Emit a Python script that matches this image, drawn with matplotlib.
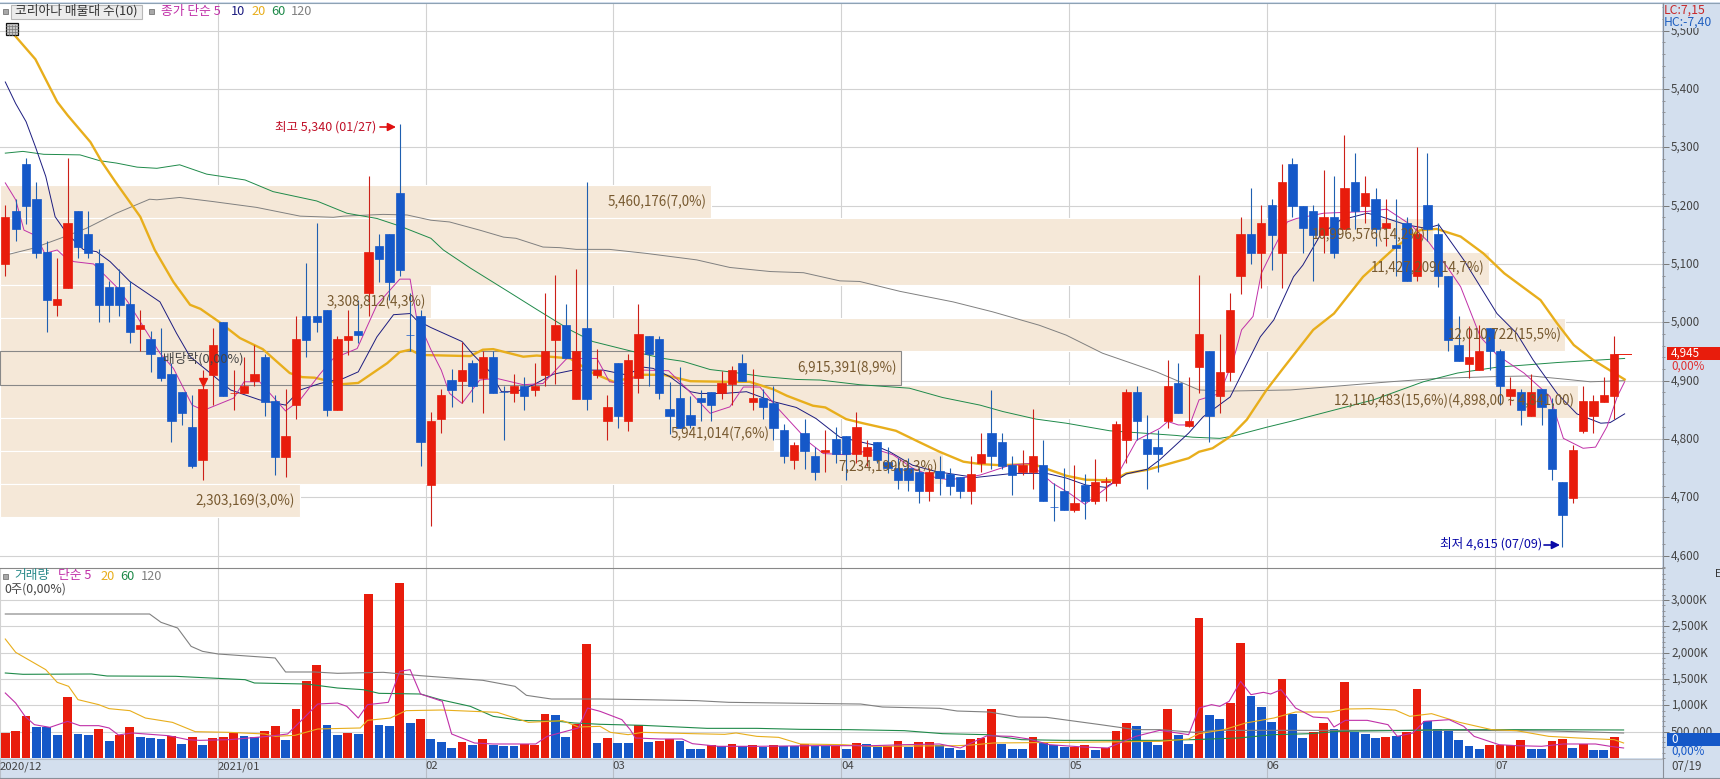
import matplotlib
matplotlib.use("Agg")
import matplotlib.pyplot as plt
from matplotlib.patches import Rectangle
from matplotlib.ticker import FixedLocator, MultipleLocator, FuncFormatter
from matplotlib.transforms import ScaledTranslation

plt.rcParams['font.family'] = ['Noto Sans CJK KR', 'DejaVu Sans']

# ---------- data ----------
candle_colors = ("rbbbbrrbbb" "bbbrbbbbbr" "rbrrrbbrrb" "bbrrbrbbbb" "brrbrbrbbr"
                 "brrrbrbrrb" "rrbbbbbbbr" "rbrbbbrbbr" "bbrrbbbbbr" "bbbrrbbbrr"
                 "bbbrbrrrrb" "bbrbrrbrrr" "brbrbbbrbr" "brbrbbrbbb" "brrbbrbrbb" "brrrrr")
body_top = [5180,5191,5272,5211,5120,5040,5170,5191,5151,5101,
            5060,5060,5031,4995,4971,4941,4911,4880,4821,4886,
            4961,5001,4879,4891,4911,4941,4865,4805,4971,5011,
            5011,5021,4971,4977,4985,5121,5131,5151,5222,4979,
            5011,4830,4875,4901,4919,4930,4940,4940,4880,4891,
            4891,4891,4950,4995,4995,4950,4990,4919,4855,4930,
            4935,4980,4976,4971,4851,4870,4841,4870,4880,4896,
            4919,4930,4870,4870,4861,4815,4790,4811,4771,4781,
            4800,4805,4820,4787,4794,4761,4750,4750,4744,4744,
            4745,4740,4734,4740,4775,4810,4794,4755,4755,4771,
            4755,4684,4710,4690,4721,4726,4728,4826,4881,4881,
            4800,4787,4891,4896,4831,4980,4950,4914,5021,5151,
            5151,5170,5201,5240,5271,5200,5191,5180,5180,5230,
            5240,5221,5211,5170,5132,5170,5151,5201,5151,5080,
            4961,4940,4950,4990,4950,4885,4880,4880,4885,4851,
            4726,4781,4865,4865,4875,4945]
body_bot = [5100,5160,5200,5119,5038,5030,5059,5129,5119,5030,
            5030,5030,4983,4989,4945,4905,4830,4845,4754,4764,
            4910,4874,4879,4878,4899,4863,4769,4769,4858,4970,
            5000,4850,4850,4970,4978,5050,5109,5069,5090,4979,
            4794,4721,4835,4884,4900,4890,4905,4879,4880,4879,
            4874,4884,4910,4970,4939,4869,4869,4910,4830,4840,
            4830,4905,4945,4879,4840,4819,4824,4864,4858,4879,
            4894,4900,4864,4854,4819,4770,4764,4780,4744,4778,
            4774,4774,4774,4770,4764,4751,4729,4729,4710,4710,
            4733,4720,4710,4710,4759,4770,4754,4738,4744,4744,
            4694,4684,4678,4678,4694,4694,4726,4725,4798,4830,
            4774,4774,4830,4845,4823,4924,4840,4874,4914,5079,
            5119,5119,5150,5119,5200,5161,5150,5150,5119,5160,
            5190,5200,5160,5161,5128,5070,5080,5160,5080,4970,
            4934,4929,4918,4950,4890,4874,4850,4840,4854,4749,
            4669,4699,4814,4840,4864,4874]
wick_high = [5201,5211,5282,5240,5140,5111,5282,5191,5191,5125,
             5071,5091,5070,5021,4985,4990,4930,4880,4875,4919,
             4990,5001,4919,4940,4961,4946,4875,4886,5011,5101,
             5170,5021,4977,5021,5038,5251,5151,5151,5340,5050,
             5021,4847,4885,4920,4967,4935,4950,4950,4890,4911,
             4906,4930,5050,5081,5031,5091,5240,4955,4875,4930,
             4946,5031,4976,4976,4897,4924,4874,4884,4880,4916,
             4925,4946,4920,4885,4891,4825,4794,4835,4786,4815,
             4820,4805,4846,4799,4794,4786,4767,4767,4750,4750,
             4770,4750,4734,4771,4811,4884,4810,4771,4781,4851,
             4799,4725,4750,4755,4740,4765,4734,4831,4885,4891,
             4841,4815,4935,4930,4906,5081,4950,4980,5050,5180,
             5230,5201,5211,5271,5281,5200,5201,5261,5251,5321,
             5291,5251,5230,5211,5211,5180,5300,5291,5170,5080,
             5010,4994,4995,4990,4955,4906,4885,4911,4885,4870,
             4726,4790,4890,4875,4906,4977]
wick_low = [5079,5140,5168,5110,4983,5010,5059,5110,5110,5000,
            5000,5010,4965,4950,4914,4900,4794,4824,4750,4729,
            4858,4874,4850,4878,4890,4839,4738,4734,4834,4940,
            4983,4840,4850,4944,4964,5010,5069,5038,5079,4950,
            4754,4650,4810,4854,4861,4864,4845,4879,4799,4864,
            4850,4874,4890,4895,4939,4869,4850,4905,4799,4819,
            4814,4879,4890,4869,4808,4819,4818,4830,4830,4869,
            4858,4900,4850,4835,4799,4759,4749,4749,4729,4744,
            4759,4729,4759,4753,4759,4741,4714,4710,4690,4694,
            4704,4704,4699,4689,4744,4749,4749,4704,4738,4714,
            4694,4660,4678,4674,4663,4689,4694,4719,4759,4798,
            4715,4744,4819,4845,4820,4879,4794,4845,4900,5049,
            5100,5059,5090,5059,5181,5119,5070,5119,5110,5160,
            5160,5170,5130,5130,5080,5070,5070,5140,5060,4950,
            4934,4905,4918,4919,4858,4858,4824,4840,4824,4729,
            4615,4690,4810,4810,4864,4835]

volume_colors = ("rrrbbbrbbr" "brrbbbrbrb" "rrrbbrrbrr" "rbbrbrbbrb" "rbbbrbrbbb"
                 "rrrbbrrbrb" "brbrrbbbrb" "rbrbrbbrbb" "rbrbbrrbrr" "bbbrrrbbbr"
                 "bbbrrbrrrb" "bbrbbrbbrr" "bbbrbbrrbr" "bbbrbrrbbb" "bbbrrrrbbr" "rbrbbr")
volume_k = [481,519,804,595,582,443,1165,462,443,557,
            329,443,595,405,386,367,418,272,405,253,
            386,405,481,424,405,519,614,348,937,1468,
            1772,633,443,481,462,3120,633,614,3329,671,
            747,367,310,196,310,253,367,253,234,234,
            266,253,842,823,405,652,2171,291,386,291,
            291,633,310,329,361,329,177,177,247,228,
            272,228,253,203,253,228,228,266,228,228,
            234,177,291,266,215,228,329,215,310,310,
            247,196,158,367,386,937,272,177,177,405,
            291,247,215,215,253,158,190,519,671,614,
            310,253,937,443,272,2665,823,747,1051,2190,
            1184,975,690,1506,842,386,500,671,557,1449,
            500,462,386,405,411,500,1316,709,550,519,
            348,234,177,253,253,247,348,177,177,329,
            367,196,266,158,158,405]

ma5_x = [0,1,1.8,3,3.8,5,5.6,6.6,8.5,10.7,11.8,14.9,16.2,18,19.1,22,23,24.5,27,28.4,30.3,31.6,33.9,35.8,38,39,39.6,41,
         42,42.8,44,45.7,47.3,49.9,51.8,54.1,55,57,58.2,59.8,61.5,63.9,65.6,67.9,69.8,71.1,72.7,74.3,75.9,77.5,78.8,81,
         83.9,85.5,87.4,89.7,91,93.9,96.8,98.7,100.9,102.5,104,106,106.7,109,111.2,112,113,114.1,115,117,118.3,119.1,120.2,121,122.2,123.5,124.4,
         127,131.2,133.1,135.4,137.1,138.9,140.2,142.1,143.7,146.3,148.8,150.1,152,153.2,154.3,155.3,156]
ma5_y = [5239,5210,5158,5148,5118,5124,5114,5104,5100,5061,5035,4947,4921,4858,4849,4870,4898,4898,4848,4867,4911,4938,4955,5030,5074,5074,5010,4953,
         4918,4878,4861,4901,4904,4893,4895,4938,4938,4938,4898,4895,4918,4917,4887,4844,4855,4889,4889,4855,4824,4793,4775,4773,
         4782,4773,4750,4733,4730,4738,4755,4758,4724,4707,4688,4715,4724,4798,4818,4830,4824,4824,4867,4878,4935,4987,5010,5084,5127,5172,5178,
         5187,5190,5194,5167,5138,5095,5061,4975,4944,4913,4873,4801,4784,4786,4821,4873,4898]

ma10_x = [0,1,2,2.9,3.9,4.8,5.9,7.5,8.8,10.1,12,14.9,16.5,17.8,19.4,21.7,24.5,27,28.4,30.3,32.6,34,35.8,37.4,39,39.6,41,
          44,45.1,46.7,47.8,49.2,50.9,52.8,54.7,57.6,59.8,61.5,62.4,64,66,66.9,69.2,71.4,74,76.2,78.1,80.4,83.6,85.2,87.4,89.7,92.3,93.5,97.1,100.3,102.2,104.1,106,108,110,111.2,
          114,115.4,118,120.9,122.2,124.1,125,126.7,128.6,131.2,132.4,135,136.9,138.1,140.5,143.7,145.6,147.2,149.5,151.4,153.7,154.6,156]
ma10_y = [5412,5375,5344,5301,5250,5181,5153,5125,5121,5104,5070,5035,4981,4941,4918,4884,4867,4858,4884,4895,4904,4915,4975,5013,5015,5004,4991,
          4967,4944,4915,4881,4881,4893,4911,4918,4918,4910,4923,4921,4907,4881,4878,4878,4881,4864,4854,4835,4803,4790,4778,4755,4744,4737,4734,4741,4741,4733,4721,4717,4740,4748,4764,
          4810,4838,4872,4975,5004,5078,5098,5150,5175,5187,5182,5167,5161,5167,5107,5015,4981,4935,4878,4843,4827,4828,4843]

ma20_x = [0.9,2.9,5,6,8.2,9.3,10.6,12,13,14.4,16.2,17.8,18.8,20.5,22.6,24.8,27.4,28.6,29.8,32.5,34,36.8,38,39,40,
          44.8,46,47,49.9,51.2,54.4,56.6,58.6,61.5,63.4,66,69.5,71.7,74,75.3,77.8,79,81,82.6,84.6,85.8,88,90,92.3,93.9,95.8,99,100.6,102.2,104.1,106.7,108,110,
          112.2,114,115,116.3,118,119.6,121.5,123.1,126,128,130.8,134,136.3,137.9,140.2,142.4,144.4,147.9,149.5,151.1,153,156]
ma20_y = [5492,5451,5378,5355,5309,5275,5241,5206,5181,5124,5069,5030,5023,5002,4973,4954,4913,4906,4905,4894,4896,4930,4949,4953,4944,
          4942,4953,4954,4941,4943,4938,4913,4898,4910,4910,4899,4898,4898,4885,4874,4857,4854,4834,4827,4819,4814,4795,4778,4761,4757,4755,4757,4747,4737,4730,4729,4741,4747,
          4758,4767,4778,4784,4804,4833,4884,4921,4987,5015,5078,5130,5158,5160,5147,5118,5084,5038,4998,4961,4935,4902]

ma60_x = [0,1.7,3.7,7.2,9.1,10.7,12.7,14.6,16.8,19.4,23.1,25.8,30,32.9,35.8,38,41,42.2,44.8,48.6,51.2,54.4,56.6,60.2,63.4,65.3,67.9,69.8,73,76.2,78.5,82.3,
          87.1,90.3,93.9,96.1,99.3,102.2,106.4,109.6,112.8,114.4,117,118.3,121.5,123.8,131.8,136.6,139.9,143.7,149.5,156]
ma60_y = [5290,5293,5288,5287,5277,5273,5266,5264,5270,5254,5244,5224,5208,5187,5178,5165,5144,5124,5093,5051,5022,4987,4967,4951,4938,4933,4919,4915,4907,4902,4901,4893,
          4887,4871,4858,4847,4834,4827,4814,4810,4806,4803,4801,4805,4820,4830,4867,4898,4913,4923,4931,4938]

ma120_x = [0,2.7,5.3,7.8,10.7,13.9,14.6,16.8,20,24.2,28.4,31.6,32.6,36.4,38.7,41,42.8,45.7,48,49.2,51.8,53.4,55,58.2,61.8,66.6,69.8,73.7,76.9,80.4,82.3,
           86.2,91.3,95.1,99.6,102.2,105.7,110.9,115,117.6,123.8,133.4,138.2,143.7,147,150.5,152.7,156]
ma120_y = [5115,5127,5144,5161,5187,5211,5210,5214,5207,5197,5182,5180,5182,5185,5184,5175,5172,5158,5146,5144,5129,5128,5125,5125,5118,5107,5094,5087,5085,5071,5070,
           5053,5035,5018,4995,4978,4947,4915,4884,4882,4884,4898,4904,4907,4908,4902,4898,4900]

vma5_x = [0,1,1.9,2.8,4.3,6,7.2,9,10,10.9,12.2,15.7,17.6,18.7,21.6,25.3,27.2,28.6,30.1,32,32.9,34,34.9,36.9,38,39,40,42.1,43,45.2,47,51.1,52.2,55.2,56.1,57.3,
          59.4,60.2,60.7,63.1,65.2,66.2,68.7,72.4,78,83.5,86.6,90,92,94.6,96.9,98.6,100.6,103.8,106.2,108.9,111.2,114,115,116.2,117,117.9,119,120,121.2,121.9,122.9,124.3,126,127.4,128,129.1,131.2,133.2,134.1,135.6,136.7,139.1,140.5,141.5,143.9,145.6,148,150.1,153.2,154.6,155.9]
vma5_y = [1234,1044,791,633,582,696,614,614,570,437,475,424,348,335,348,411,456,728,1025,1044,981,759,1013,1057,1646,1677,1215,1076,456,285,266,266,411,570,949,886,
          728,538,380,361,361,272,222,222,234,234,253,266,190,424,411,361,253,209,190,411,525,443,949,1013,981,1076,1456,1203,1247,1215,1297,949,778,759,589,715,715,633,411,475,696,728,601,411,253,234,222,266,266,222,190]

vma20_x = [0,1,3.9,5,6.1,7,9,10,12,13.5,16.1,18.3,21.6,25,26,27.9,30.1,34.2,34.9,37.1,38.6,42,47.4,50.4,53.7,55.2,57.3,
           58.3,60,61.4,66.2,69.3,70.4,72.4,74.5,76.6,80.7,83.5,91.7,93.1,95.2,102,111.2,114,115,117.4,119.5,122.2,124.3,127.7,129.1,131.5,133.9,135.3,137.4,140.1,143.2,145.6,148.7,151.5,155,155.9]
vma20_y = [2259,2006,1677,1437,1361,1108,1013,937,899,759,677,500,487,456,411,430,551,570,715,759,899,911,867,677,709,589,601,
           487,443,487,462,449,475,411,392,266,253,222,234,247,285,297,316,361,462,538,665,759,873,873,930,937,911,791,842,677,538,519,411,380,348,285]

vma60_x = [0,1.7,8.3,9.8,16.4,23.1,24,29,32,34.5,36,40,41.9,44.8,47,49.6,53.3,54.8,57.3,61.4,67.6,72.4,76.6,81.4,86.6,90.3,94.5,97.9,102,111.2,114.3,118.8,122.2,125.7,128.4,135.3,138.7,145.6,155.9]
vma60_y = [1614,1589,1595,1557,1551,1487,1424,1405,1329,1297,1228,1215,1108,981,791,715,696,665,640,620,563,563,544,538,519,462,443,348,335,335,348,380,443,462,506,525,538,538,532]

vma120_x = [0,13.9,15,16.6,17.9,19,20.5,26,27,29.8,32,36.4,40,46,49.1,50.2,52.6,57.3,61.4,66.6,69.7,79.3,82.4,84.5,90,91.7,94.8,97.6,100.3,105.5,108.9,111.2,114.6,116.4,128.4,138.7,145.6,148.7,152.5,155.9]
vma120_y = [2734,2734,2576,2468,2120,2025,1975,1899,1633,1633,1608,1627,1563,1475,1361,1190,1120,1120,1108,1089,1057,1032,1025,968,943,892,873,778,772,633,538,538,487,525,525,525,519,513,494,475]

band_edges = [5235,5178,5121,5064,5007,4950,4893,4836,4780,4723,4666]
band_volumes = [5460176,10996576,11427209,3308812,12010722,6915391,12110483,5941014,7234199,2303169]
band_labels = ["5,460,176(7,0%)","10,996,576(14,2%)","11,427,209(14,7%)","3,308,812(4,3%)",
               "12,010,722(15,5%)","6,915,391(8,9%)","12,110,483(15,6%)(4,898,00 ~ 4,841,00)",
               "5,941,014(7,6%)","7,234,199(9,3%)","2,303,169(3,0%)"]
band_label_right = [707,1426,1485,426,1562,897,1574,770,938,295]

month_ticks = [-0.5,20.5,40.5,58.5,80.5,102.5,121.5,143.5]
month_labels = ["2020/12","2021/01","02","03","04","05","06","07"]
price_ticks = [4600,4700,4800,4900,5000,5100,5200,5300,5400,5500]
volume_ticks = [500,1000,1500,2000,2500,3000]

# ---------- style ----------
W, H = 1720, 779
RED, BLUE = '#e81c0c', '#1558c8'
RWICK, BWICK = '#cc2018', '#1f5fb0'
C5, C10, C20, C60, C120 = '#c030a8', '#1c1c80', '#e8ae1c', '#1f8a4a', '#808080'
GRID = '#d2d2d2'
BAND = '#f5e8d8'
STRIP = '#d3dfee'
XL = (-0.51, 159.6)

fig = plt.figure(figsize=(W/100, H/100), dpi=100, facecolor=STRIP)
ax = fig.add_axes([0, 1-567.5/H, 1662/W, (567.5-3)/H], facecolor='white')
vx = fig.add_axes([0, 1-758/H, 1662/W, (758-567.5)/H], facecolor='white')
ov = fig.add_axes([0, 0, 1, 1], facecolor='none', zorder=10)
ov.set_xlim(0, W); ov.set_ylim(H, 0); ov.axis('off')

for a in (ax, vx):
    a.set_xlim(*XL)
    for s in a.spines.values():
        s.set_visible(False)
    a.yaxis.tick_right()
    a.tick_params(axis='y', which='major', length=5, width=0.7, color='#777777',
                  labelsize=8.4, labelcolor='#444444', pad=1.5)
    a.tick_params(axis='y', which='minor', length=2.5, width=0.6, color='#888888')
    a.set_axisbelow(True)

# ---------- price panel ----------
ax.set_ylim(4579.6, 5547.4)
ax.yaxis.set_major_locator(FixedLocator(price_ticks))
ax.yaxis.set_minor_locator(MultipleLocator(20))
ax.yaxis.set_major_formatter(FuncFormatter(lambda v, p: f"{int(v):,}"))
ax.set_xticks([])
ax.grid(axis='y', color=GRID, lw=0.8, zorder=0.5)
for m in month_ticks[1:]:
    ax.axvline(m, color=GRID, lw=0.8, zorder=0.5)

px_per_volume = 1578 / 12110483 / 10.38
for k, bv in enumerate(band_volumes):
    top, bot = band_edges[k], band_edges[k+1]
    boxed = band_labels[k].startswith("6,915")
    ax.barh((top+bot)/2, bv*px_per_volume, height=top-bot, left=XL[0], color=BAND,
            edgecolor='#888888' if boxed else 'white', linewidth=0.8,
            zorder=2 if boxed else 1)

xs = list(range(len(body_top)))
ax.plot(ma120_x, ma120_y, color=C120, lw=0.7, zorder=3)
ax.plot(ma60_x, ma60_y, color=C60, lw=0.7, zorder=3)
ax.plot(ma20_x, ma20_y, color=C20, lw=1.7, zorder=3)
ax.plot(ma10_x, ma10_y, color=C10, lw=0.7, zorder=3)
ax.plot(ma5_x, ma5_y, color=C5, lw=0.7, zorder=3)
ax.plot([155, 156.6], [4945, 4945], color=RED, lw=0.7, zorder=3)

wick_cols = [RWICK if c == 'r' else BWICK for c in candle_colors]
body_cols = [RED if c == 'r' else BLUE for c in candle_colors]
ax.vlines(xs, wick_low, wick_high, colors=wick_cols, lw=0.8, zorder=4)
ax.bar(xs, [t-b for t, b in zip(body_top, body_bot)], bottom=body_bot, width=0.8,
       color=body_cols, edgecolor=body_cols, linewidth=0.5, zorder=5)
ax.plot([19], [4897], marker='v', color=RED, ms=6, zorder=6)

for k, lab in enumerate(band_labels):
    ymid = (band_edges[k]+band_edges[k+1])/2
    ax.text((band_label_right[k]-5.3)/10.38, ymid, lab, ha='right', va='center',
            fontsize=9.7, color='#77592f', zorder=8)

# ---------- volume panel ----------
vx.set_ylim(0, 3617)
vx.yaxis.set_major_locator(FixedLocator(volume_ticks))
vx.yaxis.set_minor_locator(MultipleLocator(100))
vx.yaxis.set_major_formatter(FuncFormatter(lambda v, p: "500,000" if v == 500 else f"{int(v):,}K"))
vx.grid(axis='y', color=GRID, lw=0.8, zorder=0.5)
vx.bar(xs, volume_k, width=0.85, color=[RED if c == 'r' else BLUE for c in volume_colors], zorder=2)
vx.plot(vma120_x, vma120_y, color=C120, lw=0.8, zorder=3)
vx.plot(vma60_x, vma60_y, color=C60, lw=0.8, zorder=3)
vx.plot(vma20_x, vma20_y, color=C20, lw=0.8, zorder=3)
vx.plot(vma5_x, vma5_y, color=C5, lw=0.8, zorder=3)
vx.set_xticks(month_ticks)
vx.set_xticklabels(month_labels, ha='left')
vx.tick_params(axis='x', length=14.4, width=0.8, color='#b8bec8', labelsize=8.2,
               labelcolor='#444444', pad=-12, direction='out')
vx.xaxis.grid(True, color=GRID, lw=0.8, zorder=0.5)

# tick labels sit slightly above their grid lines
lift = ScaledTranslation(0, 1.3/100, fig.dpi_scale_trans)
for a in (ax, vx):
    for lab in a.get_yticklabels():
        lab.set_transform(lab.get_transform() + lift)

# ---------- frame ----------
ov.add_patch(Rectangle((0, 0), W, 2, color='white', lw=0))
for yy, c in ((2.5, '#8ea2b4'), (567.5, '#888888'), (778, '#8a8f98')):
    ov.plot([0, W if yy != 567.5 else 1662], [yy, yy], color=c, lw=0.8)
ov.plot([0, 1662], [758.5, 758.5], color='#b8bec8', lw=0.8)
ov.plot([1662.5, 1662.5], [3, 778], color='#8a8f98', lw=0.8)

# ---------- legends and notes ----------
def t(x, y, s, color='#444444', size=8.4, ha='left', **kw):
    ov.text(x, y, s, color=color, fontsize=size, ha=ha, va='center', **kw)

def bullet(x, y):
    ov.add_patch(Rectangle((x-2.5, y-2.5), 5, 5, facecolor='#a8a8a8', edgecolor='#777777', lw=0.6))

bullet(5, 11)
ov.add_patch(Rectangle((10.5, 4.5), 131, 14, facecolor='#ececec', edgecolor='#b8b8b8', lw=0.8))
t(15, 11, "코리아나 매물대 수(10)", '#333333', 9.2)
bullet(151, 11)
t(161, 11, "종가 단순 5", C5, 9.2)
t(231, 11, "10", C10, 9.2)
t(251, 11, "20", C20, 9.2)
t(271, 11, "60", C60, 9.2)
t(291, 11, "120", C120, 9.2)
ov.add_patch(Rectangle((6, 23), 12, 12, facecolor='#c8c8c8', edgecolor='#111111', lw=0.9))
for d in (3, 6, 9):
    ov.plot([6+d, 6+d], [25, 35], color='#777777', lw=0.5)
    ov.plot([6, 18], [23+d, 23+d], color='#777777', lw=0.5)

t(275, 127, "최고 5,340 (01/27)", '#c01028', 9.0)
ov.annotate('', xy=(396, 127), xytext=(380, 127),
            arrowprops=dict(arrowstyle='-|>', color='#e01010', lw=1.2, mutation_scale=12, shrinkA=0, shrinkB=0))
t(1440, 544, "최저 4,615 (07/09)", '#0a0aa8', 9.1)
ov.annotate('', xy=(1560, 545), xytext=(1544, 545),
            arrowprops=dict(arrowstyle='-|>', color='#0a0aa8', lw=1.2, mutation_scale=12, shrinkA=0, shrinkB=0))
t(163, 359, "배당락(0,00%)", '#444444', 9.2)

bullet(5, 576)
t(14, 576, "거래량", '#2a8a8a', 9.2)
t(58, 576, "단순 5", C5, 9.2)
t(100, 576, "20", C20, 9.2)
t(120.5, 576, "60", C60, 9.2)
t(141, 576, "120", C120, 9.2)
t(4.5, 589, "0주(0,00%)", '#444444', 8.8)

ov.add_patch(Rectangle((1667, 347), 53, 12.5, color=RED, lw=0))
t(1671, 353, "4,945", 'white')
t(1671, 366, "0,00%", '#e03030')
ov.add_patch(Rectangle((1667, 733), 53, 13, color=BLUE, lw=0))
t(1671, 739.5, "0", 'white')
t(1671, 751, "0,00%", BLUE)
t(1671, 767, "07/19", '#444444')
ov.add_patch(Rectangle((1663, 3), 57, 25, color=STRIP, lw=0))
t(1663.5, 10, "LC:7,15", '#c82828', 8.8)
t(1663.5, 22, "HC:-7,40", '#2060c0', 8.8)
t(1715, 574, "E", '#333333', 7.5)

fig.savefig("out.png", dpi=100, facecolor=fig.get_facecolor())
